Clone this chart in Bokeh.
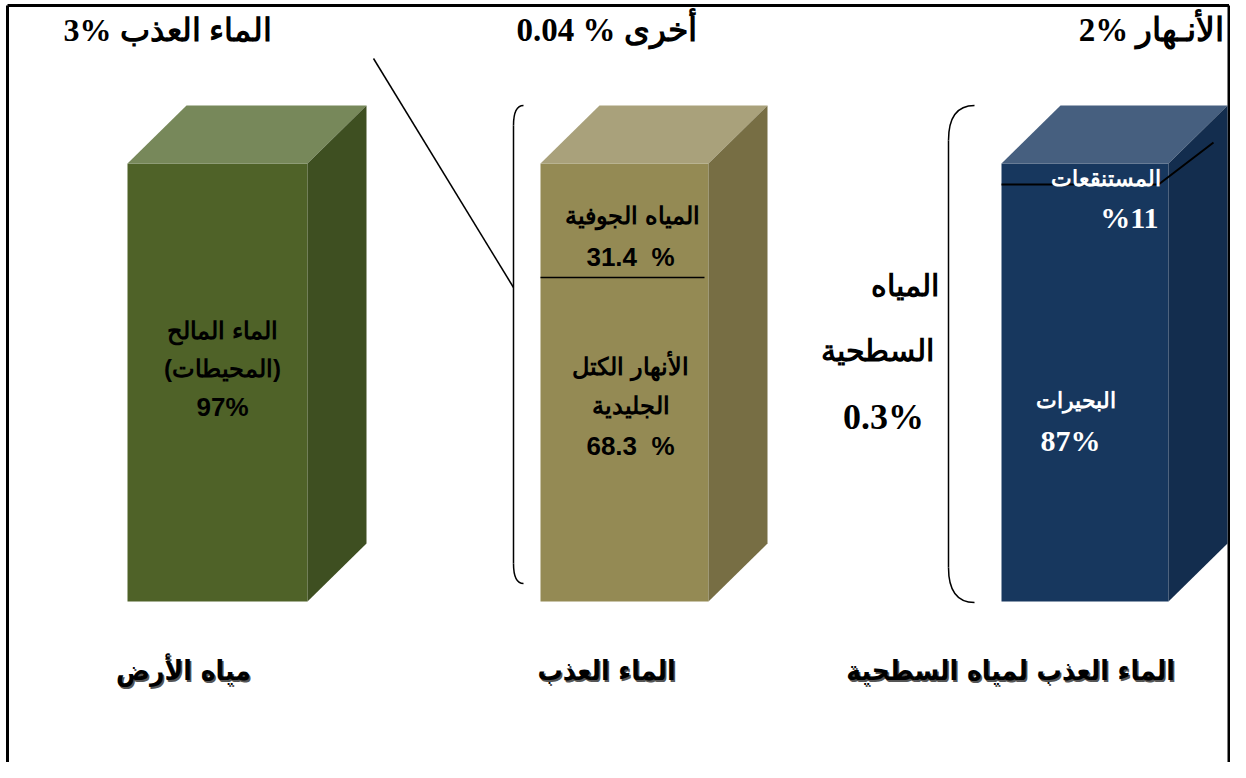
from bokeh.plotting import figure
from bokeh.models import Range1d
from bokeh.core.properties import value
from bokeh.embed import file_html
from bokeh.resources import INLINE

# ---------------- data ----------------
categories = ["مياه الأرض", "الماء العذب", "الماء العذب لمياه السطحية"]
earth_labels = ["الماء المالح", "(المحيطات)", "الماء العذب"]
earth_values = [97, 3]                     # saline (oceans), fresh
fresh_labels = ["المياه الجوفية", "الأنهار الكتل", "الجليدية", "أخرى"]
fresh_values = [31.4, 68.3, 0.04]          # groundwater, glaciers, other
surface_labels = ["المستنقعات", "البحيرات", "الأنـهار", "المياه", "السطحية"]
surface_values = [11, 87, 2]               # swamps, lakes, rivers
surface_share = 0.3                        # surface water share of fresh water

# ---------------- layout / style ----------------
W, H = 1230, 762
bar_left = [127, 540, 1001]
bar_width = [180, 168, 167]
bar_top, bar_bottom = 163, 601
dx, dy = 59, 58
front = ["#4F6228", "#948A54", "#17375E"]
side = ["#3E4F21", "#776E44", "#132D4E"]
top = ["#77885A", "#A9A17B", "#465F7F"]
divider_y = [None, 277, 184]

p = figure(width=W, height=H, x_range=Range1d(0, W), y_range=Range1d(H, 0),
           output_backend="svg", toolbar_location=None, min_border=0)
p.axis.visible = False
p.grid.visible = False
p.outline_line_color = None
p.background_fill_color = "white"

# frame
p.line([7, 7], [5, 800], line_color="black", line_width=3)
p.line([7, 1228.5], [5, 5], line_color="black", line_width=3)
p.line([1228.5, 1228.5], [5, 800], line_color="black", line_width=3)

# 3D blocks
for i, cat in enumerate(categories):
    L, w = bar_left[i], bar_width[i]
    p.quad(left=L, right=L + w, top=bar_top, bottom=bar_bottom,
           fill_color=front[i], line_color=None)
    p.patch([L, L + dx, L + w + dx, L + w], [bar_top, bar_top - dy, bar_top - dy, bar_top],
            fill_color=top[i], line_color=None)
    p.patch([L + w, L + w + dx, L + w + dx, L + w],
            [bar_top, bar_top - dy, bar_bottom - dy, bar_bottom],
            fill_color=side[i], line_color=None)

# dividers
p.line([540, 704], [divider_y[1], divider_y[1]], line_color="black", line_width=1.5)
p.line([1001, 1158, 1213], [divider_y[2], divider_y[2], 142], line_color="black", line_width=2)

# connector + brackets
p.line([373, 513], [58, 287], line_color="black", line_width=1.5)
p.quadratic(x0=[523, 513], y0=[105, 563], x1=[513, 523], y1=[125, 583],
            cx=[513, 513], cy=[105, 583], line_color="black", line_width=1.5)
p.line([513, 513], [125, 563], line_color="black", line_width=1.5)
p.quadratic(x0=[974, 948], y0=[105, 567], x1=[948, 974], y1=[140, 602],
            cx=[948, 948], cy=[105, 602], line_color="black", line_width=1.5)
p.line([948, 948], [140, 567], line_color="black", line_width=1.5)


def txt(x, y, s, font="Liberation Serif", size=34, color="black", align="center"):
    p.text(x=[x], y=[y], text=[s], text_font=value(font), text_font_size=f"{size}px",
           text_font_style="bold", text_color=color, text_align=align,
           text_baseline="middle")


SERIF = "Liberation Serif"
SANS = "Liberation Sans"

# top titles (visual order with % on the left)
txt(167, 29, f"{earth_values[1]}% {earth_labels[2]}", SERIF, 32)
txt(606, 29, f"{fresh_values[2]} % {fresh_labels[3]}", SERIF, 33)
txt(1151, 29, f"{surface_values[2]}% {surface_labels[2]}", SERIF, 33)

# green block
txt(222, 330, earth_labels[0], SANS, 24)
txt(222, 368, earth_labels[1], SANS, 24)
txt(222, 406, f"{earth_values[0]}%", SANS, 26)

# khaki block
txt(632, 215, fresh_labels[0], SANS, 24)
txt(630, 256, f"{fresh_values[0]}\u00a0 %", SANS, 26)
txt(630, 366, fresh_labels[1], SANS, 24)
txt(630, 405, fresh_labels[2], SANS, 24)
txt(630, 445, f"{fresh_values[1]}\u00a0 %", SANS, 26)

# blue block
txt(1160, 178, surface_labels[0], SANS, 22, "white", "right")
txt(1158, 217, f"%{surface_values[0]}", SERIF, 30, "white", "right")
txt(1075, 400, surface_labels[1], SANS, 22, "white")
txt(1070, 440, f"{surface_values[1]}%", SERIF, 30, "white")

# surface water share
txt(938, 285, surface_labels[3], SERIF, 30, "black", "right")
txt(877, 350, surface_labels[4], SERIF, 30)
txt(883, 416, f"{surface_share}%", SERIF, 36)

# category labels
for cx, cat in zip([183, 606, 1010], categories):
    p.text(x=[cx + 1.5], y=[671.5], text=[cat], text_font=value("DejaVu Sans Condensed"),
           text_font_size="28px", text_font_style="bold", text_color="#555555",
           text_align="center", text_baseline="middle")
    txt(cx, 670, cat, "DejaVu Sans Condensed", 28)

open("out.html", "w").write(file_html(p, INLINE))
